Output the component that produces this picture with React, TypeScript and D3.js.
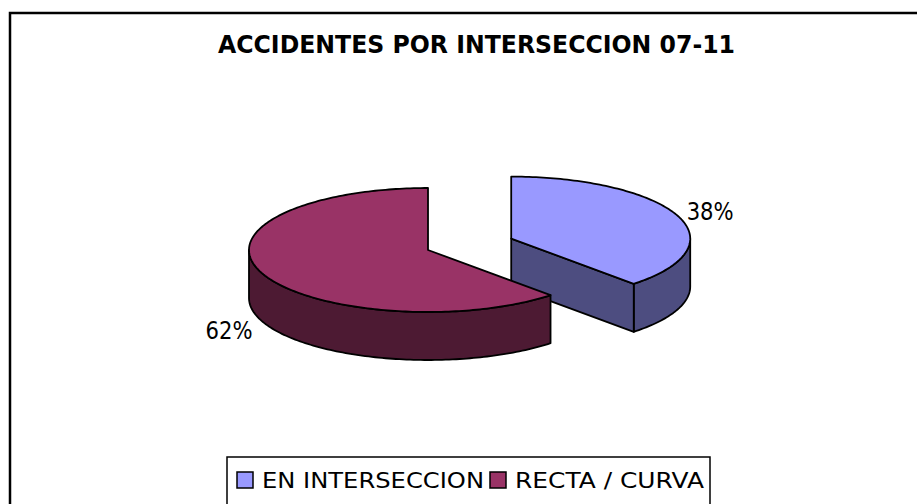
import React from 'react';
import * as d3 from 'd3';

// chart data
const categories = ['EN INTERSECCION', 'RECTA / CURVA'];
const values = [38, 62];
const percentLabels = ['38%', '62%'];
const topColors = ['#9999FF', '#993366'];
const sideColors = ['#4D4D80', '#4D1A33'];
const explode = [0.5, 0];

const title = 'ACCIDENTES POR INTERSECCION 07-11';
const FONT = '"DejaVu Sans", Verdana, sans-serif';

const W = 917;
const H = 504;

// pie geometry (tilted ellipse)
const cx = 428;
const cy = 250;
const rx = 179;
const ry = 62;
const depth = 48;

const line = d3.line<[number, number]>();

// point on the ellipse, angle clockwise from 12 o'clock
const pt = (ox: number, oy: number, a: number, dz = 0): [number, number] => [
  ox + rx * Math.sin(a),
  oy - ry * Math.cos(a) + dz,
];

const arcPts = (ox: number, oy: number, a0: number, a1: number, dz = 0) => {
  const n = Math.max(2, Math.ceil(Math.abs(a1 - a0) / 0.02));
  return d3.range(n + 1).map((i) => pt(ox, oy, a0 + ((a1 - a0) * i) / n, dz));
};

export default function App() {
  const pie = d3.pie<number>().sort(null).value((d) => d);
  const arcs = pie(values);

  const slices = arcs.map((a, i) => {
    const mid = (a.startAngle + a.endAngle) / 2;
    const ox = cx + explode[i] * rx * Math.sin(mid);
    const oy = cy - explode[i] * ry * Math.cos(mid);

    // top face
    const top = line([[ox, oy], ...arcPts(ox, oy, a.startAngle, a.endAngle)])! + 'Z';

    // outer side, only the front half (90deg..270deg) faces the viewer
    const s0 = Math.max(a.startAngle, Math.PI / 2);
    const s1 = Math.min(a.endAngle, (3 * Math.PI) / 2);
    let side: string | null = null;
    if (s1 > s0) {
      const upper = arcPts(ox, oy, s0, s1);
      const lower = arcPts(ox, oy, s1, s0, depth);
      side = line([...upper, ...lower])! + 'Z';
    }

    // radial faces that point toward the viewer
    const radial: string[] = [];
    [a.startAngle, a.endAngle].forEach((ang, k) => {
      const normal = k === 0 ? ang - Math.PI / 2 : ang + Math.PI / 2;
      if (-Math.cos(normal) > 0.01) {
        const p = pt(ox, oy, ang);
        radial.push(
          line([
            [ox, oy],
            p,
            [p[0], p[1] + depth],
            [ox, oy + depth],
          ])! + 'Z'
        );
      }
    });

    // label
    const right = Math.sin(mid) >= 0;
    const lx = ox + rx * 1.06 * Math.sin(mid) + (right ? -1 : 1);
    const ly = oy - ry * 1.2 * Math.cos(mid) + (Math.cos(mid) < 0 ? depth + 5 : 0);

    return { i, top, side, radial, lx, ly, right, exploded: explode[i] > 0 };
  });

  // exploded slice sits further back, draw it first
  const order = [...slices].sort((a, b) => Number(b.exploded) - Number(a.exploded));

  const legendX = [237, 490];
  const legendW = [222, 189];

  return (
    <svg
      width={W}
      height={H}
      style={{ position: 'absolute', left: 0, top: 0, display: 'block', background: '#fff' }}
    >
      <rect x={10} y={13} width={W + 20} height={H + 20} fill="#fff" stroke="#000" strokeWidth={2.5} />

      <text
        x={W / 2 + 18}
        y={53}
        textAnchor="middle"
        fontFamily={FONT}
        fontWeight="bold"
        fontSize={25}
        textLength={517}
        lengthAdjust="spacingAndGlyphs"
        fill="#000"
      >
        {title}
      </text>

      {order.map((s) => (
        <g key={s.i} stroke="#000" strokeWidth={1.8} strokeLinejoin="round">
          {s.side && <path d={s.side} fill={sideColors[s.i]} />}
          {s.radial.map((d, k) => (
            <path key={k} d={d} fill={sideColors[s.i]} />
          ))}
          <path d={s.top} fill={topColors[s.i]} />
        </g>
      ))}

      {slices.map((s) => (
        <text
          key={'l' + s.i}
          x={s.lx}
          y={s.ly}
          dy="0.36em"
          textAnchor={s.right ? 'start' : 'end'}
          fontFamily={FONT}
          fontSize={24.5}
          textLength={47}
          lengthAdjust="spacingAndGlyphs"
          fill="#000"
        >
          {percentLabels[s.i]}
        </text>
      ))}

      <rect x={227} y={457} width={483} height={60} fill="#fff" stroke="#000" strokeWidth={1.5} />
      {categories.map((c, i) => (
        <g key={c}>
          <rect x={legendX[i]} y={472} width={16} height={16} fill={topColors[i]} stroke="#000" strokeWidth={1.5} />
          <text
            x={legendX[i] + 25}
            y={488}
            fontFamily={FONT}
            fontSize={22}
            textLength={legendW[i]}
            lengthAdjust="spacingAndGlyphs"
            fill="#000"
          >
            {c}
          </text>
        </g>
      ))}
    </svg>
  );
}
